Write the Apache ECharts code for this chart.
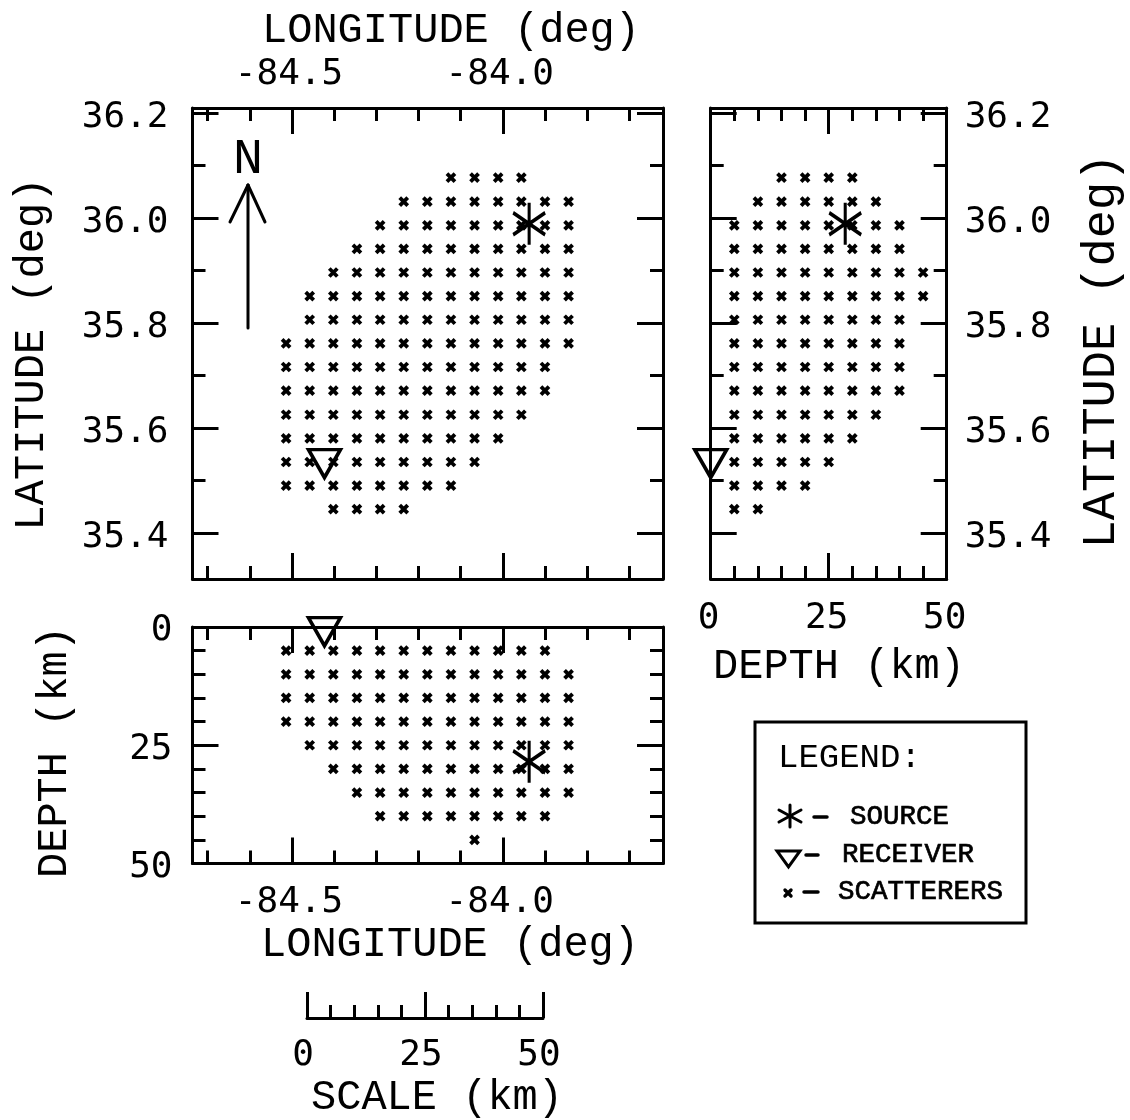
<!DOCTYPE html>
<html>
<head>
<meta charset="utf-8">
<style>html,body{margin:0;padding:0;background:#fff}#c{width:1130px;height:1120px}</style>
<script src="https://cdn.jsdelivr.net/npm/echarts@6/dist/echarts.min.js"></script>
</head>
<body>
<div id="c"></div>
<script>
// ---- data ----
const lonColumns = [-84.514,-84.458,-84.402,-84.346,-84.291,-84.235,-84.179,-84.123,-84.067,-84.011,-83.956,-83.900,-83.844];
const latRows = [36.077,36.031,35.986,35.941,35.896,35.851,35.806,35.761,35.716,35.671,35.625,35.580,35.535,35.490,35.445];
const depthLevels = [5,10,15,20,25,30,35,40,45];
// first and last occupied column index, one pair per latitude row (map view)
const mapRowSpans = [[7,10],[5,12],[4,12],[3,12],[2,12],[1,12],[1,12],[0,12],[0,11],[0,11],[0,10],[0,9],[0,8],[0,7],[2,5]];
// first and last occupied depth index, one pair per latitude row (depth-latitude view)
const sideRowSpans = [[2,5],[1,6],[0,7],[0,7],[0,8],[0,8],[0,7],[0,7],[0,7],[0,7],[0,6],[0,5],[0,4],[0,3],[0,1]];
// first and last occupied column index, one pair per depth level (longitude-depth view)
const lowerRowSpans = [[0,11],[0,12],[0,12],[0,12],[1,12],[2,12],[3,12],[4,11],[8,8]];
const sourceLon = -83.9375, sourceLat = 35.989, sourceDepth = 28.5;
const receiverLon = -84.423, receiverLat = 35.532, receiverDepthSide = 0, receiverDepthLower = 1;

const lonMajor = [-84.5,-84.0];
const lonMinor = [-84.7,-84.6,-84.4,-84.3,-84.2,-84.1,-83.9,-83.8,-83.7];
const latMajor = [36.2,36.0,35.8,35.6,35.4];
const latMinor = [36.1,35.9,35.7,35.5];
const depthMajor = [0,25,50];
const depthMinor = [5,10,15,20,30,35,40,45];
const lonLabels = {'-84.5':'-84.5','-84':'-84.0'};
const latLabels = {'36.2':'36.2','36':'36.0','35.8':'35.8','35.6':'35.6','35.4':'35.4'};

// ---- styling ----
const INK = '#000';
const MONO = '"Liberation Mono", monospace';
const NUM = '"DejaVu Sans Mono", monospace';
const LW = 3;
const MAJOR = 26, MINOR = 13;
const STAR = 'path://M16 0L16 42M0 10L32 32M0 32L32 10';
const TRI = 'path://M0 0L32 0L16 27Z';
const CROSS = 'path://M0 0L8 8M8 0L0 8';

const xAxes = [], yAxes = [];
// one frame side is two overlaid axes: long ticks (with labels) and short ticks
function side(list, grid, base, position, majorVals, minorVals, labelOpt) {
  const common = Object.assign({type:'value', gridIndex:grid, position, splitLine:{show:false}, minorTick:{show:false}}, base);
  const idx = list.length;
  const label = labelOpt ? Object.assign({
    show:true, customValues:labelOpt.values || majorVals, color:INK, fontFamily:NUM, fontSize:36,
    margin:labelOpt.margin, padding:labelOpt.padding || 0,
    formatter:v => labelOpt.map ? labelOpt.map[String(v)] : String(v)
  }, labelOpt.dy ? {verticalAlign:'top', lineHeight:labelOpt.dy*2} : {}) : {show:false};
  list.push(Object.assign({}, common, {
    axisLine:{show:true, onZero:false, lineStyle:{color:INK, width:LW}},
    axisTick:{show:true, inside:true, length:MAJOR, customValues:majorVals, lineStyle:{color:INK, width:LW}},
    axisLabel:label
  }));
  list.push(Object.assign({}, common, {
    axisLine:{show:false, onZero:false},
    axisTick:{show:true, inside:true, length:MINOR, customValues:minorVals, lineStyle:{color:INK, width:LW}},
    axisLabel:{show:false}
  }));
  return idx;
}

const grids = [
  {left:192.5, top:108, width:470.5, height:471},
  {left:710.7, top:108, width:236, height:471},
  {left:192.5, top:627, width:470.5, height:236.5},
  {left:307, top:1017, width:236, height:1}
];
const lonRange = {min:-84.736, max:-83.62};
const latRange = {min:35.312, max:36.2095};
const depthRange = {min:0, max:50};
const depthRangeInv = {min:0, max:50, inverse:true};

// map view
const mapX = side(xAxes,0,lonRange,'top',lonMajor,lonMinor,{map:lonLabels,margin:15,padding:[0,6,0,0]});
side(xAxes,0,lonRange,'bottom',lonMajor,lonMinor,null);
const mapY = side(yAxes,0,latRange,'left',latMajor,latMinor,{map:latLabels,margin:24,dy:5});
side(yAxes,0,latRange,'right',latMajor,latMinor,null);
// depth-latitude view
const sideX = side(xAxes,1,depthRange,'bottom',[25],depthMinor,{margin:22,values:depthMajor,padding:[0,4,0,0]});
side(xAxes,1,depthRange,'top',[25],depthMinor,null);
const sideY = side(yAxes,1,latRange,'right',latMajor,latMinor,{map:latLabels,margin:18,dy:5});
side(yAxes,1,latRange,'left',latMajor,latMinor,null);
// longitude-depth view
const lowX = side(xAxes,2,lonRange,'bottom',lonMajor,lonMinor,{map:lonLabels,margin:21,padding:[0,6,0,0]});
side(xAxes,2,lonRange,'top',lonMajor,lonMinor,null);
const lowY = side(yAxes,2,depthRangeInv,'left',[25],depthMinor,{margin:20,values:depthMajor,dy:4});
side(yAxes,2,depthRangeInv,'right',[25],depthMinor,null);
// scale bar
const scaleX = side(xAxes,3,depthRange,'bottom',depthMajor,depthMinor,{margin:20,padding:[0,8,0,0]});
yAxes.push({type:'value', gridIndex:3, min:0, max:1, show:false});

function expand(spans, fn) {
  const out = [];
  spans.forEach((s,r) => { for (let c=s[0]; c<=s[1]; c++) out.push(fn(c,r)); });
  return out;
}
const mapPts = expand(mapRowSpans, (c,r)=>[lonColumns[c],latRows[r]]);
const sidePts = expand(sideRowSpans, (c,r)=>[depthLevels[c],latRows[r]]);
const lowPts = expand(lowerRowSpans, (c,r)=>[lonColumns[c],depthLevels[r]]);

function scat(x, y, data) {
  return {name:'Scatterers', type:'scatter', xAxisIndex:x, yAxisIndex:y, data, symbol:CROSS, symbolSize:8,
    clip:false, silent:true, z:3, itemStyle:{color:'none', opacity:1, borderColor:INK, borderWidth:3.8}};
}
function star(x, y, pt) {
  return {name:'Source', type:'scatter', xAxisIndex:x, yAxisIndex:y, data:[pt], symbol:STAR, symbolSize:[32,42],
    clip:false, silent:true, z:4, itemStyle:{color:'none', opacity:1, borderColor:INK, borderWidth:3.5}};
}
function tri(x, y, pt) {
  return {name:'Receiver', type:'scatter', xAxisIndex:x, yAxisIndex:y, data:[pt], symbol:TRI, symbolSize:[32,28],
    clip:false, silent:true, z:4, itemStyle:{color:'none', opacity:1, borderColor:INK, borderWidth:3.5}};
}
const series = [
  scat(mapX,mapY,mapPts), star(mapX,mapY,[sourceLon,sourceLat]), tri(mapX,mapY,[receiverLon,receiverLat]),
  scat(sideX,sideY,sidePts), star(sideX,sideY,[sourceDepth,sourceLat]), tri(sideX,sideY,[receiverDepthSide,receiverLat]),
  scat(lowX,lowY,lowPts), star(lowX,lowY,[sourceLon,sourceDepth]), tri(lowX,lowY,[receiverLon,receiverDepthLower])
];

function txt(text, x, y, size, rot, align, heavy) {
  const style = {text, fill:INK, font:size+'px '+MONO, align:align||'center', verticalAlign:'middle'};
  if (heavy) { style.stroke = INK; style.lineWidth = heavy; }
  return {type:'text', x, y, rotation:rot||0, silent:true, style};
}
function seg(x1,y1,x2,y2,w) {
  return {type:'line', silent:true, shape:{x1,y1,x2,y2}, style:{stroke:INK, lineWidth:w||3, lineCap:'round'}};
}
const graphics = [
  txt('LONGITUDE (deg)',451,31,42),
  txt('LATITUDE (deg)',32,354,42,Math.PI/2),
  txt('LATITUDE (deg)',1102,351,47,Math.PI/2),
  txt('DEPTH (km)',55,752,42,Math.PI/2),
  txt('DEPTH (km)',839,667,42),
  txt('LONGITUDE (deg)',450,945,42),
  txt('SCALE (km)',437,1098,42),
  // north arrow
  txt('N',248,160,50),
  seg(248,185,248,328), seg(248,185,230,222), seg(248,185,265,222),
  // legend box
  {type:'rect', silent:true, shape:{x:755,y:722,width:271,height:201}, style:{fill:'#fff', stroke:INK, lineWidth:3}, z:-1},
  txt('LEGEND:',778,758,34,0,'left'),
  seg(790,805,790,827), seg(779,810,801,822), seg(779,822,801,810),
  seg(814,817,827,817,3.5),
  txt('SOURCE',850,817,27.5,0,'left',0.7),
  {type:'polygon', silent:true, shape:{points:[[777,851],[800,851],[788.5,867]]}, style:{fill:'none', stroke:INK, lineWidth:3}},
  seg(806,855,818,855,3.5),
  txt('RECEIVER',842,855,27.5,0,'left',0.7),
  seg(785,890,791,896,3.4), seg(791,890,785,896,3.4),
  seg(804,892,818,892,3.5),
  txt('SCATTERERS',838,892,27.5,0,'left',0.7)
];

const chart = echarts.init(document.getElementById('c'), null, {renderer:'canvas', width:1130, height:1120});
chart.setOption({
  animation:false,
  backgroundColor:'#fff',
  tooltip:{show:false},
  grid:grids,
  xAxis:xAxes,
  yAxis:yAxes,
  series:series,
  graphic:{elements:graphics}
});
</script>
</body>
</html>
